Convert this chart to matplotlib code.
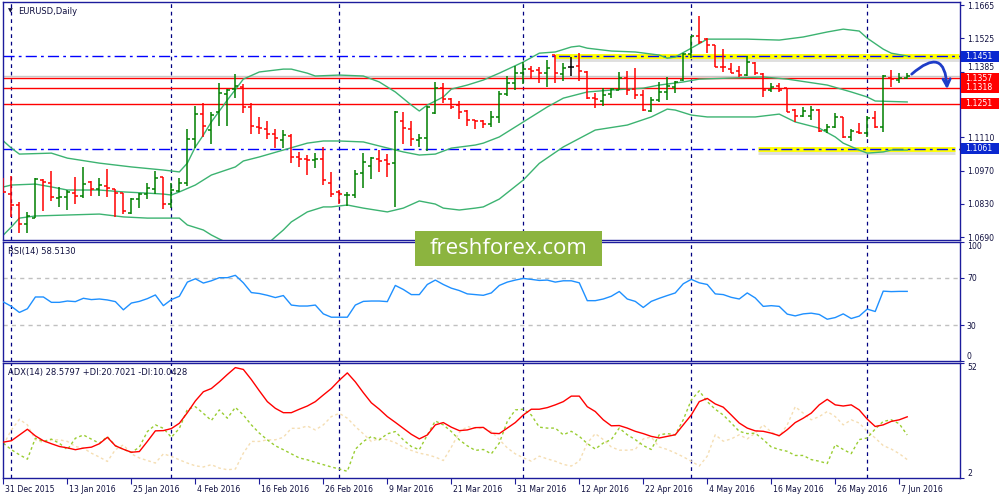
import matplotlib.pyplot as plt
import numpy as np
import pandas as pd
from matplotlib.collections import LineCollection
from matplotlib.patches import Rectangle
from matplotlib import transforms

plt.rcParams['font.family'] = ['DejaVu Sans']

# ---- data (EURUSD daily, 31 Dec 2015 - 8 Jun 2016) ----
dates = pd.bdate_range('2015-12-31', '2016-06-08').drop(pd.Timestamp('2016-01-01'))

opens = [1.0902, 1.0870, 1.0826, 1.0745, 1.0772, 1.0930, 1.0916, 1.0856, 1.0860, 1.0874,
         1.0863, 1.0923, 1.0891, 1.0905, 1.0891, 1.0874, 1.0790, 1.0850, 1.0871, 1.0891,
         1.0941, 1.0829, 1.0884, 1.0916, 1.1101, 1.1206, 1.1140, 1.1217, 1.1291, 1.1311,
         1.1322, 1.1235, 1.1154, 1.1143, 1.1123, 1.1098, 1.1116, 1.1028, 1.1017, 1.1014,
         1.1018, 1.0919, 1.0881, 1.0866, 1.0866, 1.0958, 1.0989, 1.1017, 1.1014, 1.1000,
         1.1178, 1.1143, 1.1098, 1.1105, 1.1213, 1.1315, 1.1269, 1.1245, 1.1220, 1.1182,
         1.1178, 1.1164, 1.1196, 1.1290, 1.1339, 1.1381, 1.1395, 1.1392, 1.1381, 1.1455,
         1.1374, 1.1406, 1.1409, 1.1385, 1.1273, 1.1263, 1.1290, 1.1308, 1.1357, 1.1311,
         1.1287, 1.1221, 1.1266, 1.1301, 1.1322, 1.1350, 1.1459, 1.1535, 1.1521, 1.1497,
         1.1406, 1.1395, 1.1388, 1.1371, 1.1423, 1.1375, 1.1308, 1.1325, 1.1315, 1.1224,
         1.1199, 1.1199, 1.1224, 1.1140, 1.1154, 1.1196, 1.1112, 1.1133, 1.1129, 1.1189,
         1.1151, 1.1357, 1.1350, 1.1357]
highs = [1.0940, 1.0947, 1.0836, 1.0797, 1.0940, 1.0933, 1.0968, 1.0899, 1.0888, 1.0944,
         1.0983, 1.0926, 1.0940, 1.0978, 1.0891, 1.0877, 1.0853, 1.0874, 1.0919, 1.0969,
         1.0944, 1.0916, 1.0940, 1.1144, 1.1241, 1.1252, 1.1217, 1.1339, 1.1311, 1.1375,
         1.1333, 1.1252, 1.1193, 1.1179, 1.1143, 1.1140, 1.1122, 1.1046, 1.1035, 1.1042,
         1.1067, 1.0962, 1.0888, 1.0881, 1.0972, 1.1042, 1.1028, 1.1056, 1.1038, 1.1221,
         1.1214, 1.1179, 1.1123, 1.1241, 1.1343, 1.1339, 1.1273, 1.1263, 1.1224, 1.1182,
         1.1182, 1.1220, 1.1304, 1.1367, 1.1410, 1.1427, 1.1409, 1.1403, 1.1434, 1.1455,
         1.1420, 1.1445, 1.1462, 1.1388, 1.1294, 1.1315, 1.1318, 1.1385, 1.1388, 1.1399,
         1.1308, 1.1277, 1.1340, 1.1364, 1.1346, 1.1462, 1.1535, 1.1619, 1.1525, 1.1497,
         1.1479, 1.1420, 1.1409, 1.1451, 1.1427, 1.1378, 1.1336, 1.1336, 1.1318, 1.1227,
         1.1238, 1.1241, 1.1227, 1.1165, 1.1213, 1.1196, 1.1143, 1.1171, 1.1199, 1.1221,
         1.1371, 1.1392, 1.1381, 1.1378]
lows = [1.0874, 1.0776, 1.0709, 1.0709, 1.0769, 1.0801, 1.0843, 1.0818, 1.0804, 1.0829,
        1.0853, 1.0864, 1.0864, 1.0860, 1.0776, 1.0787, 1.0786, 1.0812, 1.0849, 1.0870,
        1.0807, 1.0811, 1.0881, 1.0905, 1.1066, 1.1109, 1.1081, 1.1158, 1.1157, 1.1273,
        1.1213, 1.1123, 1.1122, 1.1102, 1.1063, 1.1063, 1.1000, 1.0986, 1.0951, 1.0982,
        1.0909, 1.0857, 1.0829, 1.0822, 1.0853, 1.0898, 1.0934, 1.0965, 1.0944, 1.0818,
        1.1080, 1.1073, 1.1070, 1.1053, 1.1207, 1.1252, 1.1228, 1.1186, 1.1158, 1.1143,
        1.1150, 1.1151, 1.1168, 1.1283, 1.1308, 1.1333, 1.1357, 1.1336, 1.1322, 1.1336,
        1.1347, 1.1368, 1.1346, 1.1269, 1.1231, 1.1242, 1.1273, 1.1308, 1.1287, 1.1269,
        1.1220, 1.1217, 1.1259, 1.1266, 1.1294, 1.1347, 1.1441, 1.1501, 1.1465, 1.1403,
        1.1385, 1.1378, 1.1364, 1.1367, 1.1371, 1.1280, 1.1301, 1.1301, 1.1217, 1.1175,
        1.1196, 1.1182, 1.1133, 1.1129, 1.1147, 1.1108, 1.1095, 1.1123, 1.1112, 1.1147,
        1.1133, 1.1322, 1.1336, 1.1353]
closes = [1.0881, 1.0826, 1.0745, 1.0779, 1.0933, 1.0923, 1.0860, 1.0860, 1.0881, 1.0863,
          1.0912, 1.0891, 1.0909, 1.0898, 1.0874, 1.0798, 1.0850, 1.0871, 1.0895, 1.0937,
          1.0829, 1.0888, 1.0919, 1.1101, 1.1207, 1.1157, 1.1203, 1.1294, 1.1308, 1.1325,
          1.1236, 1.1157, 1.1147, 1.1123, 1.1105, 1.1119, 1.1025, 1.1017, 1.1014, 1.1018,
          1.0930, 1.0871, 1.0871, 1.0867, 1.0954, 1.1004, 1.1021, 1.1010, 1.0996, 1.1217,
          1.1147, 1.1101, 1.1105, 1.1238, 1.1315, 1.1269, 1.1238, 1.1217, 1.1182, 1.1178,
          1.1164, 1.1196, 1.1290, 1.1339, 1.1381, 1.1395, 1.1389, 1.1381, 1.1399, 1.1381,
          1.1399, 1.1406, 1.1388, 1.1273, 1.1269, 1.1287, 1.1311, 1.1357, 1.1308, 1.1287,
          1.1224, 1.1266, 1.1301, 1.1325, 1.1343, 1.1459, 1.1535, 1.1511, 1.1497, 1.1406,
          1.1403, 1.1381, 1.1371, 1.1424, 1.1378, 1.1308, 1.1319, 1.1308, 1.1217, 1.1199,
          1.1220, 1.1224, 1.1137, 1.1154, 1.1196, 1.1112, 1.1137, 1.1129, 1.1189, 1.1151,
          1.1367, 1.1353, 1.1360, 1.1367]

# Bollinger bands (20), read at sample bars
bb_up_idx = [0, 1, 2, 6, 8, 12, 16, 20, 22, 23, 24, 25, 26, 28, 30, 32, 35, 36, 38, 39,
             42, 45, 47, 49, 51, 52, 53, 55, 56, 58, 60, 62, 65, 67, 69, 71, 72, 73, 76, 79,
             82, 83, 84, 86, 88, 90, 93, 97, 100, 103, 105, 107, 108, 110, 111, 113]
bb_up = [1.1094, 1.1064, 1.1039, 1.1043, 1.1022, 1.1001, 1.0985, 1.0972, 1.0964, 1.1001,
         1.1069, 1.1119, 1.1174, 1.1266, 1.1354, 1.1384, 1.1396, 1.1396, 1.1379, 1.1367,
         1.1371, 1.1367, 1.1342, 1.1300, 1.1245, 1.1220, 1.1245, 1.1279, 1.1312, 1.1329,
         1.1350, 1.1379, 1.1426, 1.1463, 1.1468, 1.1489, 1.1493, 1.1484, 1.1472, 1.1468,
         1.1455, 1.1442, 1.1447, 1.1484, 1.1522, 1.1522, 1.1522, 1.1518, 1.1531, 1.1552,
         1.1564, 1.1556, 1.1526, 1.1480, 1.1463, 1.1451]
bb_mid_idx = [0, 1, 4, 6, 8, 12, 15, 18, 20, 21, 22, 24, 26, 29, 30, 32, 35, 38, 40, 42,
              45, 47, 50, 52, 54, 56, 59, 60, 62, 65, 68, 70, 73, 76, 78, 80, 82, 85, 87, 95,
              98, 103, 106, 108, 109, 113]
bb_mid = [1.0901, 1.0909, 1.0913, 1.0901, 1.0888, 1.0888, 1.0880, 1.0875, 1.0871, 1.0867,
          1.0880, 1.0909, 1.0951, 1.0985, 1.1010, 1.1027, 1.1056, 1.1085, 1.1094, 1.1094,
          1.1090, 1.1073, 1.1048, 1.1035, 1.1039, 1.1064, 1.1077, 1.1085, 1.1111, 1.1174,
          1.1237, 1.1274, 1.1300, 1.1308, 1.1312, 1.1316, 1.1329, 1.1342, 1.1354, 1.1363,
          1.1354, 1.1329, 1.1300, 1.1279, 1.1262, 1.1258]
bb_low_idx = [0, 1, 2, 4, 8, 12, 15, 18, 22, 23, 25, 26, 27, 29, 31, 33, 34, 35, 36, 38,
              40, 41, 43, 45, 48, 50, 52, 54, 55, 57, 59, 60, 62, 65, 67, 70, 74, 78, 81, 83,
              84, 86, 88, 90, 94, 97, 99, 102, 104, 105, 107, 108, 110, 111, 113]
bb_low = [1.0699, 1.0733, 1.0770, 1.0779, 1.0783, 1.0787, 1.0775, 1.0770, 1.0770, 1.0741,
          1.0720, 1.0699, 1.0682, 1.0651, 1.0636, 1.0661, 1.0691, 1.0720, 1.0754, 1.0796,
          1.0817, 1.0817, 1.0825, 1.0812, 1.0796, 1.0812, 1.0842, 1.0829, 1.0812, 1.0804,
          1.0812, 1.0817, 1.0850, 1.0930, 1.1000, 1.1069, 1.1140, 1.1161, 1.1195, 1.1228,
          1.1224, 1.1203, 1.1195, 1.1195, 1.1195, 1.1207, 1.1174, 1.1148, 1.1111, 1.1085,
          1.1056, 1.1043, 1.1048, 1.1056, 1.1056]

rsi = [49.6, 45.9, 40.8, 43.9, 53.8, 53.8, 49.3, 49.3, 50.4, 49.9,
       52.7, 51.6, 52.1, 51.3, 49.9, 43.0, 48.7, 50.1, 52.4, 55.5,
       46.5, 51.6, 54.4, 66.3, 69.1, 65.5, 67.4, 70.0, 70.0, 72.0,
       65.7, 57.5, 56.7, 55.2, 53.3, 55.0, 47.0, 46.2, 46.2, 47.0,
       39.6, 36.8, 36.8, 36.8, 47.0, 50.1, 50.4, 50.4, 49.9, 63.5,
       60.1, 55.8, 55.8, 64.3, 68.0, 64.3, 61.2, 59.2, 56.4, 55.8,
       55.2, 57.2, 63.5, 66.3, 68.0, 69.4, 68.6, 67.7, 68.0, 66.3,
       67.4, 67.4, 65.7, 50.7, 50.7, 52.1, 54.4, 58.4, 52.1, 50.1,
       45.0, 50.1, 52.7, 55.0, 57.2, 64.9, 68.6, 65.7, 64.3, 56.4,
       55.8, 53.5, 52.1, 57.2, 53.0, 45.9, 46.5, 45.9, 39.4, 37.9,
       39.6, 40.2, 39.1, 35.1, 36.5, 39.6, 35.7, 37.7, 43.6, 41.6,
       58.7, 58.3, 58.5, 58.5]

adx = [17.6, 18.2, 20.7, 23.2, 20.3, 18.2, 16.9, 15.7, 15.1, 14.3,
       15.0, 15.4, 16.9, 19.7, 16.0, 14.5, 13.2, 13.5, 17.9, 22.5,
       22.6, 23.5, 25.8, 30.4, 35.5, 39.5, 40.9, 43.8, 47.0, 50.0,
       49.2, 44.8, 39.9, 35.2, 32.3, 30.4, 30.4, 31.9, 33.3, 35.2,
       38.1, 40.9, 44.5, 47.7, 43.8, 39.1, 34.7, 31.9, 28.7, 26.2,
       23.6, 21.0, 19.0, 20.7, 25.1, 26.1, 24.1, 22.6, 22.9, 23.9,
       24.0, 21.5, 21.3, 23.7, 26.1, 29.4, 31.9, 31.9, 32.6, 33.8,
       35.2, 37.6, 37.6, 33.0, 30.9, 27.3, 24.7, 24.8, 23.7, 22.3,
       21.3, 20.1, 19.4, 20.1, 20.8, 25.1, 29.4, 35.2, 36.6, 34.2,
       32.8, 29.4, 25.9, 23.7, 22.5, 22.3, 21.5, 20.4, 23.0, 26.1,
       28.0, 30.2, 33.8, 36.2, 33.8, 33.3, 33.8, 31.6, 27.6, 24.4,
       25.1, 26.6, 27.3, 28.6]
plus_di = [17.1, 14.3, 12.1, 10.2, 19.3, 17.9, 18.9, 17.1, 14.3, 19.3,
           20.7, 18.9, 17.1, 20.0, 16.0, 14.5, 13.1, 15.4, 22.2, 25.1,
           23.6, 19.7, 23.6, 31.8, 33.0, 30.1, 27.0, 31.6, 28.0, 32.7,
           29.4, 25.1, 21.5, 18.6, 16.0, 14.3, 12.5, 10.7, 9.9, 8.8,
           7.8, 6.8, 5.9, 4.9, 14.5, 17.9, 20.0, 18.6, 21.2, 22.2,
           18.6, 15.7, 14.3, 20.7, 26.8, 25.1, 22.2, 18.6, 16.0, 14.0,
           14.4, 12.5, 17.2, 26.6, 31.6, 31.9, 29.4, 24.1, 23.7, 23.7,
           20.8, 22.3, 20.1, 17.0, 14.6, 17.2, 18.7, 23.7, 20.8, 18.7,
           16.1, 14.4, 20.8, 21.3, 20.8, 27.3, 35.9, 39.9, 35.2, 31.9,
           29.4, 25.9, 22.3, 21.3, 21.5, 18.7, 15.5, 14.4, 13.6, 11.8,
           11.8, 10.0, 9.3, 8.3, 16.5, 14.4, 12.6, 18.7, 19.4, 23.3,
           26.6, 27.3, 25.6, 20.7]
minus_di = [16.4, 22.9, 27.5, 25.1, 18.6, 17.4, 18.6, 18.6, 17.9, 15.7,
            15.0, 12.8, 11.1, 9.2, 14.3, 16.4, 12.5, 10.7, 9.6, 8.5,
            12.5, 11.4, 9.9, 8.5, 7.3, 6.8, 7.8, 6.3, 5.6, 5.9,
            12.8, 17.9, 17.9, 18.6, 18.6, 19.7, 23.6, 23.6, 24.6, 22.9,
            25.1, 28.7, 30.1, 28.0, 24.4, 21.2, 17.9, 19.3, 18.6, 17.4,
            15.4, 14.0, 12.8, 12.1, 11.1, 9.6, 15.4, 21.8, 24.4, 23.6,
            23.7, 22.3, 18.7, 15.1, 12.5, 10.8, 9.3, 11.5, 10.3, 9.3,
            7.9, 7.2, 9.3, 17.2, 21.3, 18.7, 15.5, 14.1, 14.1, 14.4,
            19.0, 19.8, 15.5, 14.4, 12.9, 11.2, 9.3, 7.2, 11.5, 20.8,
            18.0, 19.0, 20.8, 19.0, 21.5, 25.1, 22.0, 20.1, 25.1, 33.0,
            30.2, 27.3, 28.7, 30.9, 28.7, 25.1, 27.3, 25.9, 22.3, 19.4,
            16.1, 14.6, 12.6, 10.0]

resistance = 1.1451
support = 1.1061
red_levels = [1.1357, 1.1318, 1.1251]
price_ticks = [1.0690, 1.0830, 1.0970, 1.1110, 1.1385, 1.1525, 1.1665]

# ---- colours ----
NAVY = '#1c1c9c'
TXT = '#101040'
GREEN = '#008000'
RED = '#ff0000'
BB = '#3cb371'

x = np.arange(len(dates))
xlim = (-0.05, 119.6)
month_starts = [i for i in range(1, len(dates)) if dates[i].month != dates[i - 1].month]

fig = plt.figure(figsize=(10, 5), dpi=100)
ax = fig.add_axes([0.003, 0.52, 0.957, 0.476])
ax_rsi = fig.add_axes([0.003, 0.278, 0.957, 0.238])
ax_adx = fig.add_axes([0.003, 0.044, 0.957, 0.230])

for a in (ax, ax_rsi, ax_adx):
    a.set_xlim(*xlim)
    for s in a.spines.values():
        s.set_color(NAVY)
        s.set_linewidth(1)
    a.yaxis.tick_right()
    a.tick_params(axis='y', colors=NAVY, labelcolor=TXT, labelsize=5.6,
                  length=3, pad=2, width=0.8)
    for m in month_starts:
        a.axvline(m, color='#000080', lw=0.9, ls=(0, (3, 3)), zorder=1)

# ---- main price panel ----
ax.set_ylim(1.0678, 1.1678)
ax.set_xticks([])
ax.set_yticks(price_ticks)
ax.set_yticklabels([f'{v:.4f}' for v in price_ticks])
# the 1.1385 label sits just above the red price box, as in the terminal
ax.get_yticklabels()[price_ticks.index(1.1385)].set_va('bottom')

# highlighted levels (yellow bands with soft shadow)
for lvl, x0, x1 in [(resistance, 69, 119.5), (support, 94.3, 119.0)]:
    ax.plot([x0, x1], [lvl - 0.0007, lvl - 0.0007], color='#808080', lw=5,
            alpha=0.25, solid_capstyle='butt', zorder=1.5)
    ax.plot([x0, x1], [lvl, lvl], color='#ffff00', lw=3.5,
            solid_capstyle='butt', zorder=1.6)
for lvl in (resistance, support):
    ax.axhline(lvl, color='#0000ff', lw=1, ls=(0, (8, 3, 2, 3)), zorder=1.7)

ax.axhline(closes[-1], color='#c8c8c8', lw=1, zorder=1.8)
for lvl in red_levels:
    ax.axhline(lvl, color=RED, lw=1, zorder=1.9)

# Bollinger bands
ax.plot(bb_up_idx, bb_up, color=BB, lw=1, zorder=2)
ax.plot(bb_mid_idx, bb_mid, color=BB, lw=1, zorder=2)
ax.plot(bb_low_idx, bb_low, color=BB, lw=1, zorder=2)

# OHLC bars
segs, cols = [], []
for i in x:
    o, h, l, c = opens[i], highs[i], lows[i], closes[i]
    col = GREEN if c > o else (RED if c < o else '#000000')
    segs += [[(i, l), (i, h)], [(i - 0.38, o), (i, o)], [(i, c), (i + 0.38, c)]]
    cols += [col] * 3
ax.add_collection(LineCollection(segs, colors=cols, linewidths=1.1, zorder=3))

# forecast arrow
ax.annotate('', xy=(x[-1] + 5, 1.1300), xytext=(x[-1] + 0.3, closes[-1]),
            arrowprops=dict(arrowstyle='->', connectionstyle='arc3,rad=-1.1',
                            color='#1e3cc8', lw=2, mutation_scale=13), zorder=6)

# price boxes on the right scale
blend = transforms.blended_transform_factory(ax.transAxes, ax.transData)
box_h = 0.0046
for lvl, col in [(resistance, '#0a28d0'), (support, '#0a28d0'),
                 (red_levels[0], RED), (red_levels[1], RED), (red_levels[2], RED)]:
    ax.add_patch(Rectangle((1.001, lvl - box_h / 2), 0.040, box_h, transform=blend,
                           facecolor=col, edgecolor='none', clip_on=False, zorder=5))
for lvl in [resistance, support] + red_levels:
    ax.text(1.005, lvl, f'{lvl:.4f}', transform=blend, color='white', fontsize=5.6,
            ha='left', va='center', zorder=6, clip_on=False)

ax.text(0.005, 0.962, '\u25bc', transform=ax.transAxes, fontsize=4.5, color=TXT,
        va='center', ha='left')
ax.text(0.0157, 0.962, 'EURUSD,Daily', transform=ax.transAxes, fontsize=6,
        color=TXT, va='center', ha='left')

# ---- RSI panel ----
ax_rsi.set_ylim(0, 100)
ax_rsi.set_xticks([])
ax_rsi.set_yticks([0, 30, 70, 100])
for lvl in (30, 70):
    ax_rsi.axhline(lvl, color='#c0c0c0', lw=1, ls=(0, (3, 3)), zorder=1)
ax_rsi.plot(x, rsi, color='#1e90ff', lw=1, zorder=3)
ax_rsi.text(0.005, 0.916, 'RSI(14) 58.5130', transform=ax_rsi.transAxes,
            fontsize=6, color=TXT, va='center', ha='left')

# ---- ADX panel ----
ax_adx.set_ylim(2, 52)
ax_adx.set_yticks([2, 52])
ax_adx.plot(x, minus_di, color='#f5deb3', lw=1, ls=(0, (2, 2)), zorder=2)
ax_adx.plot(x, plus_di, color='#9acd32', lw=1, ls=(0, (2, 2)), zorder=2)
ax_adx.plot(x, adx, color=RED, lw=1, zorder=3)
ax_adx.text(0.005, 0.92, 'ADX(14) 28.5797 +DI:20.7021 -DI:10.0428',
            transform=ax_adx.transAxes, fontsize=6, color=TXT, va='center', ha='left')

tick_pos = x[::8]
ax_adx.set_xticks(tick_pos)
ax_adx.set_xticklabels([f'{dates[i].day} {dates[i]:%b %Y}' for i in tick_pos])
ax_adx.tick_params(axis='x', colors=NAVY, labelcolor=TXT, labelsize=5.6,
                   length=4, pad=1, width=0.8)
shift = transforms.ScaledTranslation(0.02, 0, fig.dpi_scale_trans)
for lbl in ax_adx.get_xticklabels():
    lbl.set_ha('left')
    lbl.set_transform(lbl.get_transform() + shift)

# keep the extreme labels of the sub-panels inside their panels
for a in (ax_rsi, ax_adx):
    labels = a.get_yticklabels()
    labels[0].set_va('bottom')
    labels[-1].set_va('top')

# ---- watermark ----
fig.patches.append(Rectangle((0.415, 0.468), 0.187, 0.070, transform=fig.transFigure,
                             facecolor='#8cb43f', edgecolor='none', zorder=10))
fig.text(0.5085, 0.503, 'freshforex.com', fontsize=16, color='white',
         family=['Open Sans', 'DejaVu Sans'], ha='center', va='center', zorder=11)

fig.savefig('out.png', dpi=100, facecolor='white')
